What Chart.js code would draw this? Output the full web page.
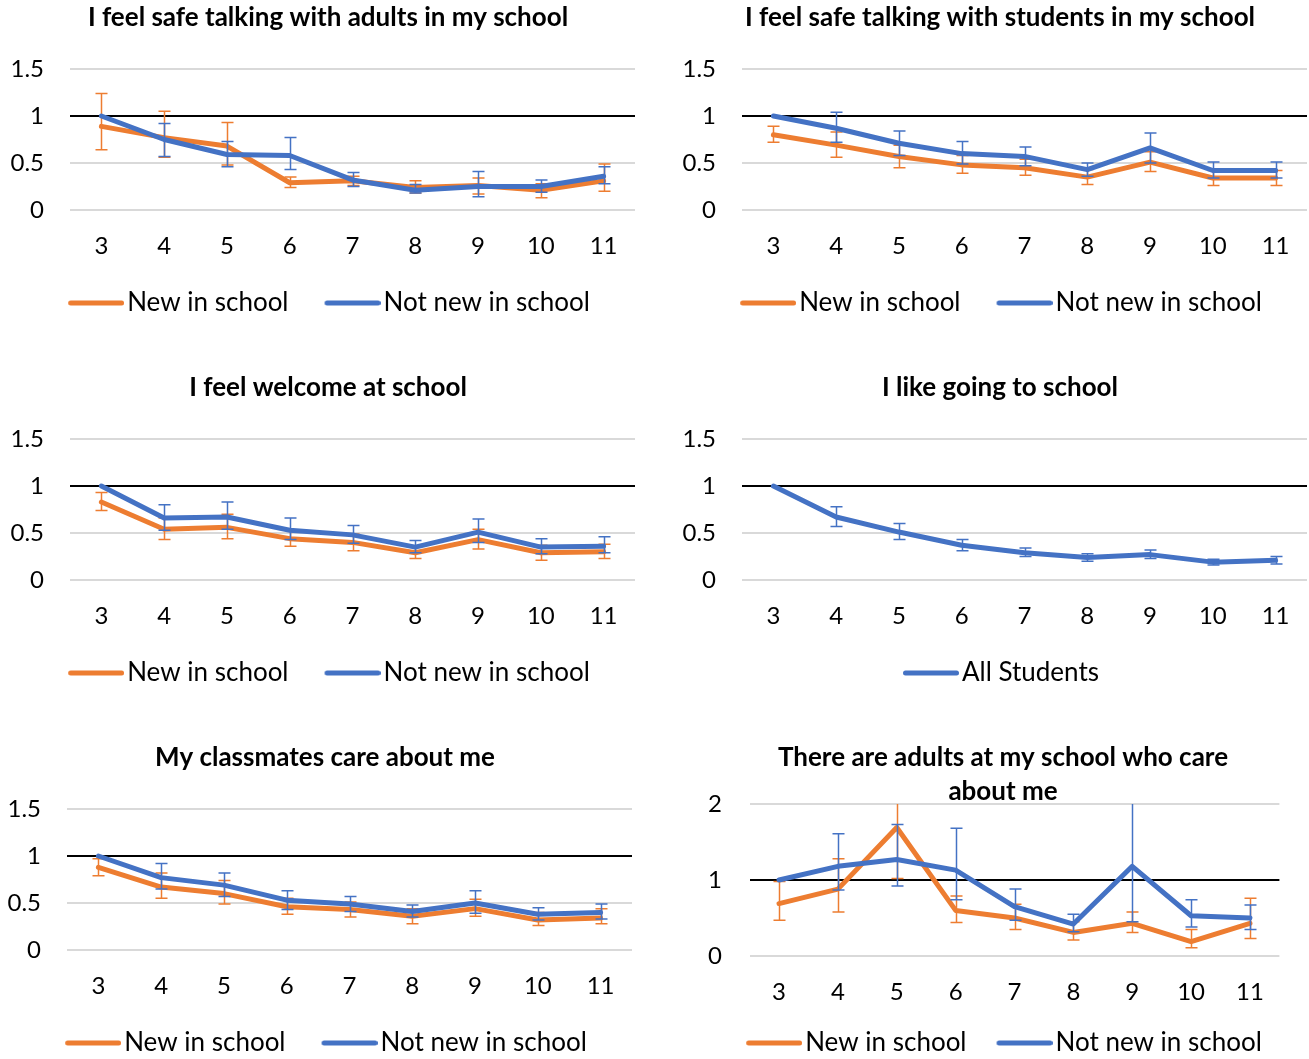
<!DOCTYPE html>
<html>
<head>
<meta charset="utf-8">
<script src="https://cdn.jsdelivr.net/npm/chart.js@4"></script>
<style>
  html, body { margin: 0; padding: 0; background: #fff; width: 1309px; height: 1059px; overflow: hidden; }
  canvas { position: absolute; }
</style>
</head>
<body>
<canvas id="c1"></canvas>
<canvas id="c2"></canvas>
<canvas id="c3"></canvas>
<canvas id="c4"></canvas>
<canvas id="c5"></canvas>
<canvas id="c6"></canvas>
<script>
// Grades on the x axis
const grades = ['3', '4', '5', '6', '7', '8', '9', '10', '11'];
const yTicksSmall = [0, 0.5, 1, 1.5];
const yTicksLarge = [0, 1, 2];

// I feel safe talking with adults in my school
const adultsNew      = [0.89, 0.77, 0.68, 0.29, 0.31, 0.24, 0.26, 0.21, 0.31];
const adultsNewLow   = [0.64, 0.56, 0.48, 0.24, 0.26, 0.18, 0.17, 0.13, 0.20];
const adultsNewHigh  = [1.24, 1.05, 0.93, 0.35, 0.36, 0.31, 0.34, 0.28, 0.49];
const adultsOld      = [1.00, 0.75, 0.59, 0.58, 0.32, 0.21, 0.25, 0.25, 0.36];
const adultsOldLow   = [null, 0.57, 0.46, 0.43, 0.25, 0.18, 0.14, 0.19, 0.28];
const adultsOldHigh  = [null, 0.92, 0.73, 0.77, 0.40, 0.27, 0.41, 0.32, 0.46];

// I feel safe talking with students in my school
const studentsNew     = [0.80, 0.69, 0.57, 0.48, 0.45, 0.35, 0.51, 0.34, 0.34];
const studentsNewLow  = [0.72, 0.56, 0.45, 0.39, 0.37, 0.27, 0.41, 0.26, 0.26];
const studentsNewHigh = [0.89, 0.83, 0.69, 0.58, 0.54, 0.43, 0.62, 0.42, 0.42];
const studentsOld     = [1.00, 0.87, 0.71, 0.60, 0.57, 0.43, 0.66, 0.42, 0.42];
const studentsOldLow  = [null, 0.72, 0.58, 0.49, 0.47, 0.36, 0.50, 0.34, 0.34];
const studentsOldHigh = [null, 1.04, 0.84, 0.73, 0.67, 0.50, 0.82, 0.51, 0.51];

// I feel welcome at school
const welcomeNew     = [0.83, 0.54, 0.56, 0.44, 0.40, 0.29, 0.43, 0.29, 0.30];
const welcomeNewLow  = [0.74, 0.43, 0.44, 0.36, 0.31, 0.23, 0.33, 0.21, 0.23];
const welcomeNewHigh = [0.93, 0.66, 0.70, 0.53, 0.49, 0.36, 0.54, 0.37, 0.38];
const welcomeOld     = [1.00, 0.66, 0.67, 0.53, 0.48, 0.35, 0.51, 0.35, 0.36];
const welcomeOldLow  = [null, 0.53, 0.54, 0.43, 0.39, 0.29, 0.40, 0.28, 0.29];
const welcomeOldHigh = [null, 0.80, 0.83, 0.66, 0.58, 0.42, 0.65, 0.44, 0.46];

// I like going to school
const likeAll     = [1.00, 0.67, 0.51, 0.37, 0.29, 0.24, 0.27, 0.19, 0.21];
const likeAllLow  = [null, 0.57, 0.43, 0.31, 0.25, 0.20, 0.23, 0.16, 0.17];
const likeAllHigh = [null, 0.78, 0.60, 0.43, 0.34, 0.28, 0.32, 0.22, 0.25];

// My classmates care about me
const classNew     = [0.88, 0.67, 0.60, 0.46, 0.43, 0.36, 0.44, 0.32, 0.34];
const classNewLow  = [0.79, 0.55, 0.49, 0.38, 0.35, 0.28, 0.36, 0.26, 0.28];
const classNewHigh = [0.97, 0.82, 0.74, 0.55, 0.51, 0.44, 0.54, 0.40, 0.44];
const classOld     = [1.00, 0.77, 0.69, 0.53, 0.49, 0.41, 0.50, 0.38, 0.40];
const classOldLow  = [null, 0.65, 0.57, 0.43, 0.41, 0.35, 0.39, 0.32, 0.33];
const classOldHigh = [null, 0.92, 0.82, 0.63, 0.57, 0.48, 0.63, 0.45, 0.49];

// There are adults at my school who care about me
const careNew     = [0.69, 0.88, 1.69, 0.60, 0.50, 0.31, 0.43, 0.19, 0.43];
const careNewLow  = [0.47, 0.58, 1.02, 0.44, 0.35, 0.21, 0.31, 0.11, 0.23];
const careNewHigh = [0.98, 1.28, 2.40, 0.79, 0.68, 0.45, 0.58, 0.35, 0.76];
const careOld     = [1.00, 1.18, 1.27, 1.13, 0.65, 0.42, 1.18, 0.53, 0.50];
const careOldLow  = [null, 0.87, 0.92, 0.74, 0.47, 0.32, 0.45, 0.38, 0.35];
const careOldHigh = [null, 1.61, 1.73, 1.68, 0.88, 0.55, 3.00, 0.74, 0.67];

const ORANGE = '#ED7D31';
const BLUE = '#4472C4';
const FONT = 'Lato, "Open Sans", sans-serif';
const CANVAS_H = 326;
const LEGEND_BOX = 48;

// Vertical error bars with caps, drawn right after their own series
const errorBars = {
  id: 'errorBars',
  afterDatasetDraw(chart, args) {
    const ds = chart.data.datasets[args.index];
    if (!ds.errLow) return;
    const {ctx, chartArea} = chart;
    const yScale = chart.scales.y;
    ctx.save();
    ctx.beginPath();
    ctx.rect(chartArea.left - 10, chartArea.top, chartArea.width + 20, chartArea.height + 10);
    ctx.clip();
    ctx.strokeStyle = ds.borderColor;
    ctx.lineWidth = 1.5;
    args.meta.data.forEach((pt, i) => {
      const lo = ds.errLow[i], hi = ds.errHigh[i];
      if (lo == null || hi == null) return;
      const x = Math.round(pt.x) + 0.5;
      const yl = yScale.getPixelForValue(lo);
      const yh = yScale.getPixelForValue(hi);
      ctx.beginPath();
      ctx.moveTo(x, yl); ctx.lineTo(x, yh);
      ctx.moveTo(x - 6, yl); ctx.lineTo(x + 6, yl);
      ctx.moveTo(x - 6, yh); ctx.lineTo(x + 6, yh);
      ctx.stroke();
    });
    ctx.restore();
  }
};

// Legend swatch: a short thick line that runs right up to the label text
const swatchCache = {};
function lineSwatch(color) {
  if (swatchCache[color]) return swatchCache[color];
  const c = document.createElement('canvas');
  c.width = 68; c.height = 8;
  const g = c.getContext('2d');
  g.strokeStyle = color;
  g.lineWidth = 5;
  g.lineCap = 'round';
  g.beginPath();
  g.moveTo(14.5, 4); g.lineTo(65.5, 4);
  g.stroke();
  swatchCache[color] = c;
  return c;
}

function legendLabels(chart) {
  return Chart.defaults.plugins.legend.labels.generateLabels(chart)
    .sort((a, b) => a.datasetIndex - b.datasetIndex)
    .map(item => Object.assign(item, { pointStyle: lineSwatch(item.strokeStyle) }));
}

function series(label, color, values, low, high, order) {
  return {
    label, data: values, errLow: low, errHigh: high, order,
    borderColor: color, backgroundColor: color,
    borderWidth: 5, borderCapStyle: 'round', borderJoinStyle: 'round',
    pointRadius: 0, pointHoverRadius: 0, tension: 0, fill: false
  };
}

function makeChart(id, pos, title, datasets, opts) {
  const cv = document.getElementById(id);
  cv.width = pos.w; cv.height = CANVAS_H;
  cv.style.left = pos.left + 'px'; cv.style.top = pos.top + 'px';
  cv.style.width = pos.w + 'px'; cv.style.height = CANVAS_H + 'px';
  const ticks = opts.ticks;
  return new Chart(cv, {
    type: 'line',
    data: { labels: grades, datasets },
    plugins: [errorBars],
    options: {
      responsive: false,
      animation: false,
      devicePixelRatio: 1,
      events: [],
      layout: { padding: 0 },
      plugins: {
        tooltip: { enabled: false },
        title: {
          display: true, text: title, color: '#000',
          font: { family: FONT, size: 26, weight: 'bold', lineHeight: 34 / 26 },
          padding: { top: 1, bottom: opts.titlePadBottom }
        },
        legend: {
          position: 'bottom',
          labels: {
            usePointStyle: true, pointStyleWidth: LEGEND_BOX,
            color: '#000', padding: opts.legendPad,
            font: { family: FONT, size: 26 },
            generateLabels: legendLabels
          }
        }
      },
      scales: {
        x: {
          type: 'category', offset: true,
          grid: { display: false, drawTicks: false },
          border: { display: false },
          ticks: { color: '#000', padding: 21.6, font: { family: FONT, size: 24 }, maxRotation: 0 },
          afterFit: s => { s.height = opts.xHeight; }
        },
        y: {
          min: 0, max: ticks[ticks.length - 1],
          grid: {
            drawTicks: false, lineWidth: 2,
            color: c => (c.tick && c.tick.value === 1) ? '#000000' : '#D9D9D9'
          },
          border: { display: false },
          ticks: {
            color: '#000', padding: opts.yPad, font: { family: FONT, size: 24 },
            callback: v => String(v)
          },
          afterBuildTicks: s => { s.ticks = ticks.map(v => ({ value: v })); },
          afterFit: s => { s.width = opts.yWidth; }
        },
        // empty right-hand gutter that keeps the plot clear of the frame edge
        gutter: {
          type: 'linear', position: 'right', display: true,
          grid: { display: false, drawTicks: false },
          border: { display: false },
          ticks: { display: false },
          afterFit: s => { s.width = opts.gutter; }
        }
      }
    }
  });
}

const std = { ticks: yTicksSmall, gutter: 21, titlePadBottom: 34, xHeight: 46, legendPad: 34, yPad: 26, yWidth: 70 };

makeChart('c1', { left: 0, top: 0, w: 656 }, 'I feel safe talking with adults in my school', [
  series('New in school', ORANGE, adultsNew, adultsNewLow, adultsNewHigh, 2),
  series('Not new in school', BLUE, adultsOld, adultsOldLow, adultsOldHigh, 1)
], std);

makeChart('c2', { left: 672, top: 0, w: 656 }, 'I feel safe talking with students in my school', [
  series('New in school', ORANGE, studentsNew, studentsNewLow, studentsNewHigh, 2),
  series('Not new in school', BLUE, studentsOld, studentsOldLow, studentsOldHigh, 1)
], std);

makeChart('c3', { left: 0, top: 370, w: 656 }, 'I feel welcome at school', [
  series('New in school', ORANGE, welcomeNew, welcomeNewLow, welcomeNewHigh, 2),
  series('Not new in school', BLUE, welcomeOld, welcomeOldLow, welcomeOldHigh, 1)
], std);

makeChart('c4', { left: 672, top: 370, w: 656 }, 'I like going to school', [
  series('All Students', BLUE, likeAll, likeAllLow, likeAllHigh, 1)
], std);

makeChart('c5', { left: -3, top: 740, w: 656 }, 'My classmates care about me', [
  series('New in school', ORANGE, classNew, classNewLow, classNewHigh, 2),
  series('Not new in school', BLUE, classOld, classOldLow, classOldHigh, 1)
], std);

makeChart('c6', { left: 672, top: 740, w: 662 }, ['There are adults at my school who care', 'about me'], [
  series('New in school', ORANGE, careNew, careNewLow, careNewHigh, 2),
  series('Not new in school', BLUE, careOld, careOldLow, careOldHigh, 1)
], { ticks: yTicksLarge, gutter: 54.6, titlePadBottom: -5, xHeight: 46, legendPad: 28, yPad: 27.6, yWidth: 77.6 });
</script>
</body>
</html>
